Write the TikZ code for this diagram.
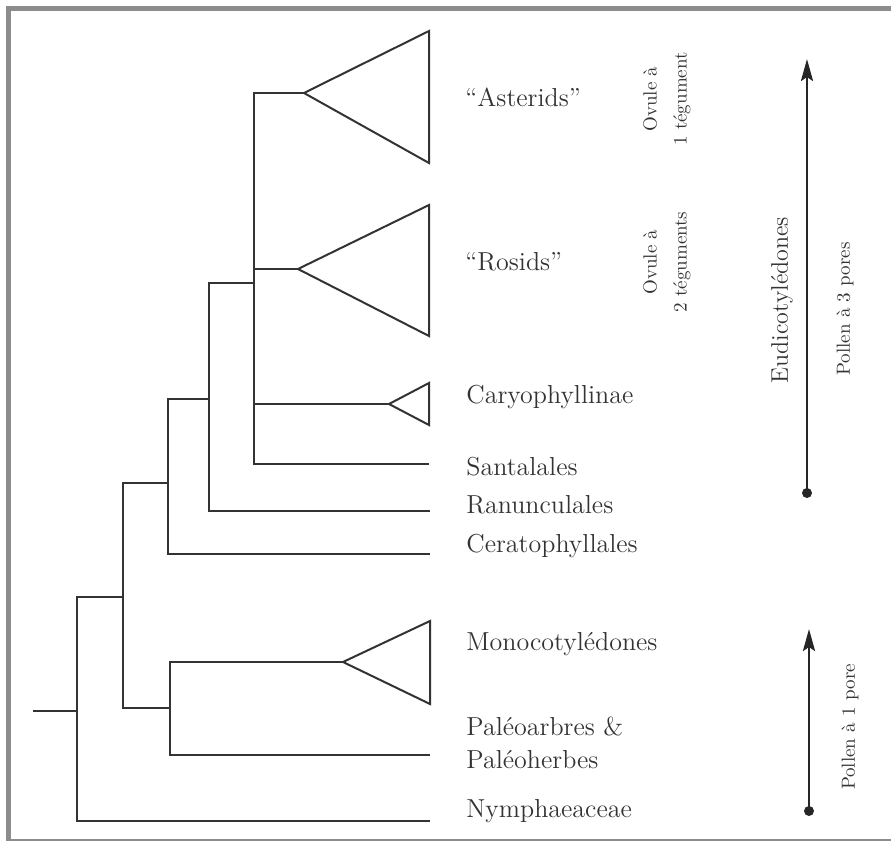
\documentclass[tikz,border=0pt]{standalone}
\usepackage{tikz}
\usetikzlibrary{arrows.meta}

\tikzset{
  branch/.style={draw=black!80, line width=1pt},
  taxon/.style={anchor=base west, inner sep=0pt, text=black!80, font=\fontsize{13}{15}\selectfont},
  trait/.style={rotate=90, align=center, inner sep=0pt, text=black!80, font=\fontsize{9.5}{15}\selectfont},
  trend/.style={draw=black!85, line width=1.4pt, -{Stealth[length=11pt,width=6pt,inset=2pt]}},
  startdot/.style={circle, fill=black!85, inner sep=0pt, minimum size=5pt},
}

\begin{document}
\begin{tikzpicture}[x=0.5pt, y=-0.5pt]
  \useasboundingbox (0,0) rectangle (891,841);
  % frame
  \draw[black!45, line width=2.5pt] (891,8) -- (8,8) -- (8,841) -- (891,841);

  % inner nodes of the tree
  \coordinate (stem) at (33,711);
  \coordinate (n1) at (77,711);
  \coordinate (n2) at (123,597);
  \coordinate (n3) at (168,483);
  \coordinate (n4) at (209,399);
  \coordinate (n5) at (254,283);
  \coordinate (n6) at (170,708);

  % tips
  \coordinate (tAst) at (304,93);
  \coordinate (tRos) at (298,269);
  \coordinate (tCar) at (389,404);
  \coordinate (tSan) at (429,464);
  \coordinate (tRan) at (430,511);
  \coordinate (tCer) at (430,554);
  \coordinate (tMon) at (343,662);
  \coordinate (tPal) at (430,755);
  \coordinate (tNym) at (430,821);

  % branches
  \draw[branch] (stem) -- (n1);
  \draw[branch] (n2) -| (n1) |- (tNym);
  \draw[branch] (n3) -| (n2) |- (n6);
  \draw[branch] (tMon) -| (n6) |- (tPal);
  \draw[branch] (n4) -| (n3) |- (tCer);
  \draw[branch] (n5) -| (n4) |- (tRan);
  \draw[branch] (tAst) -| (n5) |- (tSan);
  \draw[branch] (n5) |- (tRos);
  \draw[branch] (n5) |- (tCar);

  % collapsed clades
  \draw[branch] (tAst) -- (429,31) -- (429,163) -- cycle;
  \draw[branch] (tRos) -- (429,205) -- (429,336) -- cycle;
  \draw[branch] (tCar) -- (429,383) -- (429,425) -- cycle;
  \draw[branch] (tMon) -- (430,621) -- (430,704) -- cycle;

  % taxa
  \node[taxon] (Ast) at (465,106) {“Asterids”};
  \node[taxon] (Ros) at (465,270) {“Rosids”};
  \node[taxon] (Car) at (466,403) {Caryophyllinae};
  \node[taxon] (San) at (466,475) {Santalales};
  \node[taxon] (Ran) at (466,513) {Ranunculales};
  \node[taxon] (Cer) at (466,552) {Ceratophyllales};
  \node[taxon] (Mon) at (466,650) {Monocotylédones};
  \node[taxon] (Pal) at (466,735) {Paléoarbres \&};
  \node[taxon] (Pal2) at (466,768) {Paléoherbes};
  \node[taxon] (Nym) at (466,817) {Nymphaeaceae};

  % characters
  \node[trait] (ov1) at (667,99) {Ovule à\\1 tégument};
  \node[trait] (ov2) at (667,262) {Ovule à\\2 téguments};
  \node[trait, font=\fontsize{12}{14}\selectfont] (eud) at (782,300) {Eudicotylédones};
  \node[trait] (p3) at (845,309) {Pollen à 3 pores};
  \node[trait] (p1) at (850,727) {Pollen à 1 pore};

  % trends
  \node[startdot] (d3) at (807,493) {};
  \coordinate (h3) at (807,59);
  \draw[trend] (d3.center) -- (h3);
  \node[startdot] (d1) at (809,811) {};
  \coordinate (h1) at (809,629);
  \draw[trend] (d1.center) -- (h1);
\end{tikzpicture}
\end{document}
